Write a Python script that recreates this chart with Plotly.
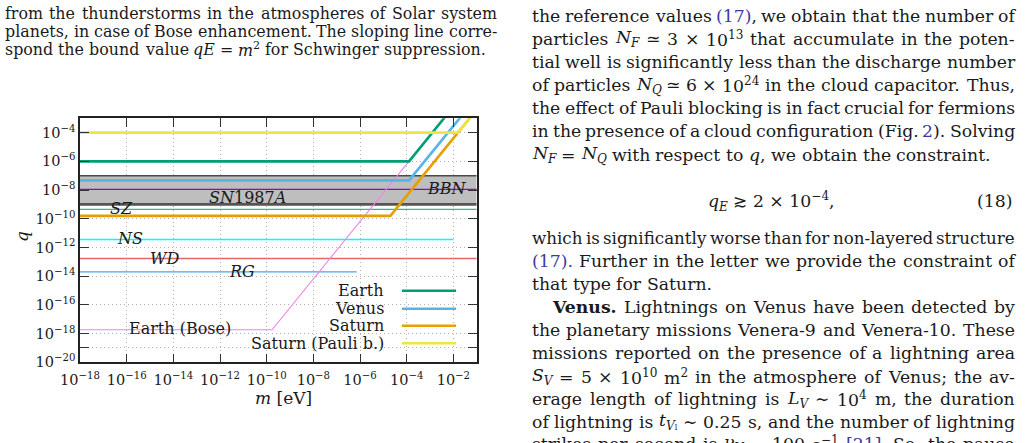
import glob
import os
import re
import struct

import plotly.graph_objects as go

W, H = 1030, 443

def px(x):
    return x / W

def py(y):
    return 1 - y / H

# ---------------- data ----------------
M_EDGE = [1e-18, 1e-1]

# gray band (SN1987A / BBN region)
band_lo, band_hi = 1e-9, 1e-7

# thin horizontal constraint lines
purple_q = 1.1e-8
sz_q = 4.5e-10
ns_q = 3.6e-12
ns_m = [1e-18, 1e-2]
wd_q = 1.7e-13
rg_q = 2.0e-14
rg_m = [1e-18, 7.2e-7]

# Earth (Bose) with Schwinger slope
bose_m = [1e-18, 1.7e-10, 1e-2]
bose_q = [1.86e-18, 1.86e-18, 6.4e-3]

earth_m = [1e-18, 1.26e-4, 1e-2]
earth_q = [1e-6, 1e-6, 6.4e-3]

venus_m = [1e-18, 1.26e-4, 3.2e-2]
venus_q = [4.7e-8, 4.7e-8, 2.95e-3]

saturn_m = [1e-18, 2.0e-5, 1e-1]
saturn_q = [1.6e-10, 1.6e-10, 4.1e-3]

pauli_m = [1e-18, 1.58e-2, 1e-1]
pauli_q = [1e-4, 1e-4, 4.1e-3]

x_tickvals = [1e-18, 1e-16, 1e-14, 1e-12, 1e-10, 1e-8, 1e-6, 1e-4, 1e-2]
x_ticktext = ["10<sup>−18</sup>", "10<sup>−16</sup>", "10<sup>−14</sup>", "10<sup>−12</sup>",
              "10<sup>−10</sup>", "10<sup>−8</sup>", "10<sup>−6</sup>", "10<sup>−4</sup>",
              "10<sup>−2</sup>"]
y_tickvals = [1e-20, 1e-19, 1e-18, 1e-16, 1e-14, 1e-12, 1e-10, 1e-8, 1e-6, 1e-4]
y_ticktext = ["10<sup>−20</sup>", "", "10<sup>−18</sup>", "10<sup>−16</sup>", "10<sup>−14</sup>",
              "10<sup>−12</sup>", "10<sup>−10</sup>", "10<sup>−8</sup>", "10<sup>−6</sup>",
              "10<sup>−4</sup>"]

legend_names = ["Earth", "Venus", "Saturn", "Saturn (Pauli b.)"]

# colours
C_EARTH = "#009E73"
C_VENUS = "#56B4E9"
C_SATURN = "#E69F00"
C_PAULI = "#F0E442"
C_BOSE = "#EE82EE"
C_PURPLE = "#9400D3"
C_SZ = "#2DBE8C"
C_NS = "#00FFFF"
C_WD = "#E06868"
C_RG = "#44A6E4"
C_BAND = "#BEBEBE"

SERIF = "DejaVu Serif"
TXT = "#1a1a1a"
LINK = "#3b3b9e"

# ---------------- font metrics (for justified text) ----------------
class TTF:
    def __init__(self, path):
        d = open(path, "rb").read()
        n = struct.unpack(">H", d[4:6])[0]
        t = {}
        for i in range(n):
            tag, _cs, off, _ln = struct.unpack(">4sIII", d[12 + 16 * i:28 + 16 * i])
            t[tag] = off
        self.upm = struct.unpack(">H", d[t[b"head"] + 18:t[b"head"] + 20])[0]
        nh = struct.unpack(">H", d[t[b"hhea"] + 34:t[b"hhea"] + 36])[0]
        hm = t[b"hmtx"]
        self.adv = [struct.unpack(">H", d[hm + 4 * i:hm + 4 * i + 2])[0] for i in range(nh)]
        c = t[b"cmap"]
        nsub = struct.unpack(">H", d[c + 2:c + 4])[0]
        sub = None
        for i in range(nsub):
            pid, eid, off = struct.unpack(">HHI", d[c + 4 + 8 * i:c + 12 + 8 * i])
            fmt = struct.unpack(">H", d[c + off:c + off + 2])[0]
            if fmt == 4 and pid in (0, 3) and sub is None:
                sub = c + off
        s = sub
        segx2 = struct.unpack(">H", d[s + 6:s + 8])[0]
        seg = segx2 // 2
        self.ends = struct.unpack(">%dH" % seg, d[s + 14:s + 14 + segx2])
        self.starts = struct.unpack(">%dH" % seg, d[s + 16 + segx2:s + 16 + 2 * segx2])
        self.deltas = struct.unpack(">%dh" % seg, d[s + 16 + 2 * segx2:s + 16 + 3 * segx2])
        self.ro_off = s + 16 + 3 * segx2
        self.ros = struct.unpack(">%dH" % seg, d[self.ro_off:self.ro_off + segx2])
        self.seg = seg
        self.d = d
        self.cache = {}

    def gid(self, code):
        for i in range(self.seg):
            if self.ends[i] >= code:
                if self.starts[i] > code:
                    return 0
                if self.ros[i] == 0:
                    return (code + self.deltas[i]) & 0xFFFF
                addr = self.ro_off + 2 * i + self.ros[i] + 2 * (code - self.starts[i])
                g = struct.unpack(">H", self.d[addr:addr + 2])[0]
                return 0 if g == 0 else (g + self.deltas[i]) & 0xFFFF
        return 0

    def width(self, ch):
        if ch not in self.cache:
            g = self.gid(ord(ch))
            a = self.adv[g] if g < len(self.adv) else self.adv[-1]
            self.cache[ch] = a / self.upm
        return self.cache[ch]


def find_font(name):
    for root in ["/usr/share/fonts", "/usr/local/share/fonts",
                 os.path.expanduser("~/.fonts"), os.path.expanduser("~/.local/share/fonts")]:
        hits = glob.glob(os.path.join(root, "**", name), recursive=True)
        if hits:
            return hits[0]
    return None

FONTS = {}
try:
    reg = find_font("DejaVuSerif.ttf")
    FONTS["r"] = TTF(reg)
    for key, fname in [("i", "DejaVuSerif-Italic.ttf"), ("b", "DejaVuSerif-Bold.ttf"),
                       ("bi", "DejaVuSerif-BoldItalic.ttf")]:
        p = find_font(fname)
        FONTS[key] = TTF(p) if p else FONTS["r"]
except Exception:
    FONTS = {}

TOK = re.compile(r"<[^>]+>|[^<]+")
SPLIT = re.compile(r" (?![^<]*>)")

def html_width(s, size):
    italic = bold = False
    scale = 1.0
    w = 0.0
    for tok in TOK.findall(s):
        if tok.startswith("<"):
            closing = tok.startswith("</")
            tag = tok.strip("</> ").split()[0].lower()
            if tag == "i":
                italic = not closing
            elif tag == "b":
                bold = not closing
            elif tag in ("sub", "sup"):
                scale = 1.0 if closing else 0.7
        else:
            key = ("b" if bold else "") + ("i" if italic else "")
            f = FONTS.get(key or "r", FONTS["r"])
            w += sum(f.width(ch) for ch in tok) * size * scale
    return w

# ---------------- figure ----------------
fig = go.Figure()

fig.add_trace(go.Scatter(x=[M_EDGE[0], M_EDGE[1], M_EDGE[1], M_EDGE[0]],
                         y=[band_hi, band_hi, band_lo, band_lo],
                         fill="toself", fillcolor=C_BAND, line=dict(width=0),
                         mode="lines", hoverinfo="skip"))
fig.add_trace(go.Scatter(x=M_EDGE, y=[band_hi, band_hi], mode="lines",
                         line=dict(color="#4a4a4a", width=1.4)))
fig.add_trace(go.Scatter(x=M_EDGE, y=[band_lo, band_lo], mode="lines",
                         line=dict(color="#555555", width=2.6)))

def hline(m, q, color, width):
    fig.add_trace(go.Scatter(x=m, y=[q, q], mode="lines",
                             line=dict(color=color, width=width)))

hline(M_EDGE, purple_q, C_PURPLE, 1.3)
hline(M_EDGE, sz_q, C_SZ, 1.3)
hline(ns_m, ns_q, C_NS, 1.3)
hline(M_EDGE, wd_q, C_WD, 1.3)
hline(rg_m, rg_q, C_RG, 1.3)

fig.add_trace(go.Scatter(x=bose_m, y=bose_q, mode="lines",
                         line=dict(color=C_BOSE, width=1.1)))

for m, q, c, name in [(earth_m, earth_q, C_EARTH, legend_names[0]),
                      (venus_m, venus_q, C_VENUS, legend_names[1]),
                      (saturn_m, saturn_q, C_SATURN, legend_names[2]),
                      (pauli_m, pauli_q, C_PAULI, legend_names[3])]:
    fig.add_trace(go.Scatter(x=m, y=q, mode="lines", name=name,
                             line=dict(color=c, width=2.6)))

axis_common = dict(
    type="log", showline=True, linecolor="#222222", linewidth=1.5, mirror="allticks",
    ticks="inside", ticklen=9, tickwidth=1, tickcolor="#333333",
    showgrid=True, gridcolor="#b0b0b0", gridwidth=1, griddash="1px,3px",
    zeroline=False, automargin=False,
    tickfont=dict(family=SERIF, size=14.5, color=TXT),
)

fig.update_layout(
    width=W, height=H, margin=dict(l=0, r=0, t=0, b=0, autoexpand=False),
    paper_bgcolor="white", plot_bgcolor="white", showlegend=False,
    xaxis=dict(axis_common, range=[-18, -1], domain=[px(80), px(476.7)],
               tickvals=x_tickvals, ticktext=x_ticktext, tickangle=0,
               ticklabelstandoff=4),
    yaxis=dict(axis_common, range=[-20, -3], domain=[py(362.3), py(118.3)],
               tickvals=y_tickvals, ticktext=y_ticktext),
)

# white legend box (between grid and traces)
try:
    fig.add_shape(type="rect", xref="paper", yref="paper", x0=px(188), x1=px(470),
                  y0=py(358), y1=py(278), fillcolor="white", line=dict(width=0),
                  layer="between")
except Exception:
    fig.add_shape(type="rect", xref="paper", yref="paper", x0=px(188), x1=px(470),
                  y0=py(358), y1=py(278), fillcolor="white", line=dict(width=0),
                  layer="below")

legend_y = [290.7, 308.7, 325.7, 343.3]
legend_c = [C_EARTH, C_VENUS, C_SATURN, C_PAULI]
for name, yy, c in zip(legend_names, legend_y, legend_c):
    fig.add_annotation(x=px(386), y=py(yy), xref="paper", yref="paper", text=name,
                       showarrow=False, xanchor="right", yanchor="middle",
                       font=dict(family=SERIF, size=16, color=TXT))
    fig.add_shape(type="line", xref="paper", yref="paper", x0=px(402), x1=px(456),
                  y0=py(yy), y1=py(yy), line=dict(color=c, width=2.6))

def ann(x, y, text, size=16, xanchor="center", color=TXT, angle=0, pad=1):
    fig.add_annotation(x=px(x), y=py(y), xref="paper", yref="paper", text=text,
                       showarrow=False, xanchor=xanchor, yanchor="middle",
                       borderpad=pad, borderwidth=0 if pad == 0 else 1,
                       textangle=angle, font=dict(family=SERIF, size=size, color=color))

# labels inside the plot
ann(247, 197.5, "<i>SN</i>1987<i>A</i>")
ann(447, 188, "<i>BBN</i>")
ann(121, 208, "<i>SZ</i>")
ann(130, 239, "<i>NS</i>")
ann(164, 258, "<i>WD</i>")
ann(242, 271, "<i>RG</i>")
ann(180, 328, "Earth (Bose)")

# axis titles
ann(22, 237, "<i>q</i>", size=17, angle=-90)
ann(283, 398, "<i>m</i> [eV]", size=17)

# ---------------- surrounding page text ----------------
def blue(s):
    return "<span style='color:%s'>%s</span>" % (LINK, s)

def place_line(text, x0, x1, y, size, justify):
    if not FONTS:
        ann(x0, y, text, size=size, xanchor="left", pad=0)
        return
    words = SPLIT.split(text)
    n = len(words)
    space = FONTS["r"].width(" ")
    widths = [html_width(w, size) for w in words]
    avail = x1 - x0
    min_gap = 0.6 * space * size
    if n > 1 and sum(widths) + (n - 1) * min_gap > avail:
        size = size * avail / (sum(widths) + (n - 1) * min_gap)
        widths = [html_width(w, size) for w in words]
    if justify and n > 1:
        gap = (avail - sum(widths)) / (n - 1)
    else:
        gap = space * size
    x = x0
    for w, wd in zip(words, widths):
        ann(x, y, w, size=size, xanchor="left", pad=0)
        x += wd + gap

caption = [
    ("from the thunderstorms in the atmospheres of Solar system", 13.3, True),
    ("planets, in case of Bose enhancement. The sloping line corre-", 31.7, True),
    ("spond the bound value <i>qE</i> = <i>m</i><sup>2</sup> for Schwinger suppression.", 50.0, False),
]
CAP_X0, CAP_X1 = 5, 497
cap_size = 15.8
if FONTS:
    cap_size = (486 - CAP_X0) / html_width(caption[2][0], 1.0)
for t, yy, j in caption:
    place_line(t, CAP_X0, CAP_X1, yy, cap_size, j)

body = [
    (532, 16.0, "the reference values " + blue("(17)") + ", we obtain that the number of", True),
    (532, 38.8, "particles <i>N</i><sub><i>F</i></sub> ≃ 3 × 10<sup>13</sup> that accumulate in the poten-", True),
    (532, 61.7, "tial well is significantly less than the discharge number", True),
    (532, 85.0, "of particles <i>N</i><sub><i>Q</i></sub> ≃ 6 × 10<sup>24</sup> in the cloud capacitor. Thus,", True),
    (532, 107.8, "the effect of Pauli blocking is in fact crucial for fermions", True),
    (532, 130.9, "in the presence of a cloud configuration (Fig. " + blue("2") + "). Solving", True),
    (532, 154.6, "<i>N</i><sub><i>F</i></sub> = <i>N</i><sub><i>Q</i></sub> with respect to <i>q</i>, we obtain the constraint.", False),
    (532, 238.0, "which is significantly worse than for non-layered structure", True),
    (532, 260.5, blue("(17).") + " Further in the letter we provide the constraint of", True),
    (532, 283.5, "that type for Saturn.", False),
    (552, 306.7, "<b>Venus.</b> Lightnings on Venus have been detected by", True),
    (532, 330.0, "the planetary missions Venera-9 and Venera-10. These", True),
    (532, 353.3, "missions reported on the presence of a lightning area", True),
    (532, 376.5, "<i>S</i><sub><i>V</i></sub> = 5 × 10<sup>10</sup> m<sup>2</sup> in the atmosphere of Venus; the av-", True),
    (532, 399.0, "erage length of lightning is <i>L</i><sub><i>V</i></sub> ∼ 10<sup>4</sup> m, the duration", True),
    (532, 421.7, "of lightning is <i>t</i><sub><i>V</i>ₗ</sub> ∼ 0.25 s, and the number of lightning", True),
    (532, 443.5, "strikes per second is <i>ν</i><sub><i>V</i></sub> ∼ 100 s<sup>−1</sup> " + blue("[21].") + " So, the pause", True),
]
BODY_X1 = 1015
body_size = 17.0
if FONTS:
    s1 = (992 - 532) / html_width(body[6][2], 1.0)
    s2 = (711.7 - 532) / html_width(body[9][2], 1.0)
    body_size = (s1 + s2) / 2
for x, yy, t, j in body:
    place_line(t, x, BODY_X1, yy, body_size, j)

# displayed equation
ann(771, 201, "<i>q</i><sub><i>E</i></sub> ≳ 2 × 10<sup>−4</sup>,", size=body_size)
ann(1014, 201, "(18)", size=body_size, xanchor="right")

fig.write_html("out.html")
